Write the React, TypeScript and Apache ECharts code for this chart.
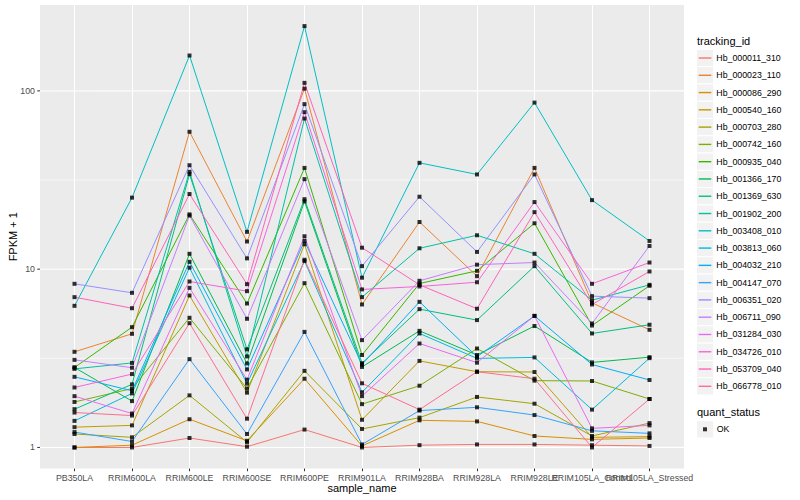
import React, { useEffect, useRef } from "react";
import * as echarts from "echarts";

const categories = [
  "PB350LA", "RRIM600LA", "RRIM600LE", "RRIM600SE", "RRIM600PE", "RRIM901LA",
  "RRIM928BA", "RRIM928LA", "RRIM928LE", "RRIM105LA_Control", "RRIM105LA_Stressed",
];

const trackingIds = [
  "Hb_000011_310", "Hb_000023_110", "Hb_000086_290", "Hb_000540_160", "Hb_000703_280",
  "Hb_000742_160", "Hb_000935_040", "Hb_001366_170", "Hb_001369_630", "Hb_001902_200",
  "Hb_003408_010", "Hb_003813_060", "Hb_004032_210", "Hb_004147_070", "Hb_006351_020",
  "Hb_006711_090", "Hb_031284_030", "Hb_034726_010", "Hb_053709_040", "Hb_066778_010",
];

const palette = [
  "#F8766D", "#EA8331", "#D89000", "#C09B00", "#A3A500", "#7CAE00", "#39B600", "#00BB4E",
  "#00BF7D", "#00C1A3", "#00BFC4", "#00BAE0", "#00B0F6", "#35A2FF", "#9590FF", "#C77CFF",
  "#E76BF3", "#FA62DB", "#FF62BC", "#FF6C91",
];

// FPKM + 1 per sample, in category order
const hb000011_310 = [1.0, 1.0, 1.13, 1.01, 1.26, 1.0, 1.03, 1.04, 1.04, 1.03, 1.02];
const hb000023_110 = [3.44, 4.34, 59, 14.3, 103, 6.34, 18.4, 9.14, 37, 6.48, 4.57];
const hb000086_290 = [1.0, 1.03, 1.44, 1.09, 2.43, 1.02, 1.42, 1.4, 1.16, 1.11, 1.13];
const hb000540_160 = [1.3, 1.33, 7.12, 2.03, 13.8, 1.43, 3.06, 2.66, 2.65, 1.14, 1.15];
const hb000703_280 = [1.19, 1.14, 1.96, 1.07, 2.69, 1.27, 1.47, 1.92, 1.76, 1.16, 1.37];
const hb000742_160 = [1.8, 2.14, 5.34, 2.14, 8.35, 1.75, 2.22, 3.59, 2.37, 2.36, 1.87];
const hb000935_040 = [2.81, 4.73, 20.3, 6.42, 37, 3.3, 8.31, 9.79, 18.1, 4.83, 8.07];
const hb001366_170 = [2.81, 1.82, 12.2, 2.96, 24.0, 2.83, 4.51, 3.3, 4.8, 3.0, 3.21];
const hb001369_630 = [1.64, 2.26, 34.1, 3.55, 24.7, 2.97, 5.97, 5.18, 10.4, 4.36, 4.88];
const hb001902_200 = [2.76, 2.98, 35.2, 3.24, 70, 6.97, 13.1, 15.5, 12.2, 6.7, 8.17];
const hb003408_010 = [6.23, 25.2, 158, 16.2, 231, 8.96, 39.5, 34.0, 86, 24.4, 14.4];
const hb003813_060 = [1.41, 2.01, 10.2, 2.28, 11.1, 2.04, 4.36, 3.16, 3.2, 1.63, 3.17];
const hb004032_210 = [2.49, 2.08, 11.0, 2.74, 14.4, 2.92, 6.56, 3.23, 5.47, 2.92, 2.39];
const hb004147_070 = [1.22, 1.08, 3.13, 1.19, 4.45, 1.04, 1.61, 1.68, 1.52, 1.24, 1.2];
const hb006351_020 = [8.28, 7.37, 38.3, 11.5, 84.3, 10.4, 25.5, 12.5, 34, 7.06, 6.88];
const hb006711_090 = [3.1, 2.8, 20.0, 5.27, 32, 4.0, 8.61, 10.6, 10.9, 4.96, 13.5];
const hb031284_030 = [1.94, 1.55, 7.86, 2.4, 15.3, 1.94, 3.83, 2.99, 5.47, 1.28, 1.33];
const hb034726_010 = [2.17, 2.58, 8.53, 7.53, 76, 7.7, 8.0, 8.45, 23.8, 8.28, 10.9];
const hb053709_040 = [6.97, 6.04, 26.4, 8.24, 111, 13.2, 8.17, 6.0, 20.9, 6.34, 9.71];
const hb066778_010 = [1.57, 1.51, 4.98, 1.45, 11.3, 2.29, 1.63, 2.66, 2.43, 1.0, 1.87];

const seriesValues = [
  hb000011_310, hb000023_110, hb000086_290, hb000540_160, hb000703_280,
  hb000742_160, hb000935_040, hb001366_170, hb001369_630, hb001902_200,
  hb003408_010, hb003813_060, hb004032_210, hb004147_070, hb006351_020,
  hb006711_090, hb031284_030, hb034726_010, hb053709_040, hb066778_010,
];

const quantStatus = ["OK"];
// y breaks (log10 scale)
const yBreaks = [1, 10, 100];
const yBreakLabels = ["1", "10", "100"];
const yMinorBreaks = [Math.sqrt(10), 10 * Math.sqrt(10)];

const FONT = "'Liberation Sans', Arial, Helvetica, sans-serif";

export default function App() {
  const ref = useRef<HTMLDivElement>(null);

  useEffect(() => {
    if (!ref.current) return;
    const chart = echarts.init(ref.current, undefined, { renderer: "svg" });

    const panelLeft = 40;
    const panelTop = 5;
    const panelRight = 684;
    const panelBottom = 468.5;
    const panelW = panelRight - panelLeft;
    const panelH = panelBottom - panelTop;
    const tickLen = 2.75;
    const logLo = -0.118;
    const logHi = 2.482;
    const yMin = Math.pow(10, logLo);
    const yMax = Math.pow(10, logHi);
    const pxOfExp = (e: number) => panelTop + (panelH * (logHi - e)) / (logHi - logLo);
    const breaksTop = pxOfExp(Math.log10(yBreaks[yBreaks.length - 1]));
    const breaksBottom = pxOfExp(Math.log10(yBreaks[0]));
    // discrete x: 0.6 category units of padding on each side
    const unit = panelW / (categories.length - 1 + 1.2);
    const dataLeft = panelLeft + 0.6 * unit;
    const dataW = unit * (categories.length - 1);

    const keyX = 696.4;
    const keySize = 17.28;
    const firstKeyCenter = 58;
    const okCenter = 429.3;

    const lineSeries = trackingIds.map((id, s) => ({
      name: id,
      type: "line",
      xAxisIndex: 1,
      yAxisIndex: 1,
      data: seriesValues[s],
      showSymbol: false,
      symbol: "none",
      lineStyle: { color: palette[s], width: 1 },
      itemStyle: { color: palette[s] },
      silent: true,
      z: 2,
    }));

    const points: (string | number)[][] = [];
    seriesValues.forEach((vals) => vals.forEach((v, i) => points.push([categories[i], v])));

    const labelStyle = { color: "#4D4D4D", fontSize: 8.8, fontFamily: FONT };

    const hiddenValueX = (gridIndex: number) => ({
      gridIndex,
      type: "value",
      min: 0,
      max: 1,
      axisLine: { show: false, onZero: false },
      axisTick: { show: false },
      axisLabel: { show: false },
      splitLine: { show: false },
    });
    const hiddenLogY = (gridIndex: number) => ({
      gridIndex,
      type: "log",
      logBase: 10,
      min: yMin,
      max: yMax,
      axisLine: { show: false, onZero: false },
      axisTick: { show: false },
      axisLabel: { show: false },
      splitLine: { show: false },
    });

    // grid rules / ticks as line series across a whole grid (a hair of slope keeps a non-zero box)
    const ruleLines = (gi: number, values: number[], color: string, width: number) =>
      values.map((v) => ({
        type: "line",
        xAxisIndex: gi,
        yAxisIndex: gi,
        data: [
          [0, v],
          [1, v * 1.001],
        ],
        showSymbol: false,
        symbol: "none",
        lineStyle: { color, width },
        silent: true,
        clip: false,
        z: 1,
      }));

    const option: any = {
      animation: false,
      grid: [
        {
          left: panelLeft,
          top: panelTop,
          width: panelW,
          height: panelH,
          show: true,
          backgroundColor: "#EBEBEB",
          borderWidth: 0,
        },
        { left: dataLeft, top: panelTop, width: dataW, height: panelH, show: false },
        { left: panelLeft, top: breaksTop, width: panelW, height: breaksBottom - breaksTop, show: false },
        { left: panelLeft - tickLen, top: panelTop, width: tickLen, height: panelH, show: false },
      ],
      xAxis: [
        hiddenValueX(0),
        {
          gridIndex: 1,
          type: "category",
          data: categories,
          boundaryGap: false,
          axisLine: { show: false, onZero: false },
          axisTick: { show: true, interval: 0, length: tickLen, lineStyle: { color: "#333333", width: 1 } },
          axisLabel: {
            ...labelStyle,
            interval: 0,
            margin: 5,
            hideOverlap: false,
            showMinLabel: true,
            showMaxLabel: true,
          },
          splitLine: { show: true, interval: 0, lineStyle: { color: "#FFFFFF", width: 1.07 } },
        },
        hiddenValueX(2),
        hiddenValueX(3),
      ],
      yAxis: [
        hiddenLogY(0),
        hiddenLogY(1),
        {
          // labels 1, 10, 100, evenly spaced decades
          gridIndex: 2,
          type: "category",
          data: yBreakLabels,
          boundaryGap: false,
          position: "left",
          axisLine: { show: false, onZero: false },
          axisTick: { show: false },
          axisLabel: { ...labelStyle, interval: 0, margin: 5, showMinLabel: true, showMaxLabel: true },
          splitLine: { show: false },
        },
        hiddenLogY(3),
      ],
      legend: [
        {
          data: trackingIds,
          orient: "vertical",
          left: 698.7,
          top: firstKeyCenter - keySize / 2,
          itemWidth: 12.6,
          itemHeight: 1.4,
          itemGap: 0,
          icon: "rect",
          padding: 0,
          selectedMode: false,
          z: 4,
          textStyle: { fontSize: 8.8, color: "#000000", fontFamily: FONT, lineHeight: keySize },
        },
        {
          data: quantStatus,
          orient: "vertical",
          left: 703,
          top: okCenter - keySize / 2,
          itemWidth: 4,
          itemHeight: 4,
          itemGap: 0,
          icon: "rect",
          padding: 0,
          selectedMode: false,
          z: 4,
          textStyle: {
            fontSize: 8.8,
            color: "#000000",
            fontFamily: FONT,
            lineHeight: keySize,
            padding: [0, 0, 0, 4.7],
          },
        },
      ],
      series: [
        ...ruleLines(0, yMinorBreaks, "#FFFFFF", 0.6),
        ...ruleLines(0, yBreaks, "#FFFFFF", 1.1),
        ...ruleLines(3, yBreaks, "#333333", 1),
        ...lineSeries,
        {
          name: "OK",
          type: "scatter",
          xAxisIndex: 1,
          yAxisIndex: 1,
          data: points,
          symbol: "rect",
          symbolSize: 4,
          itemStyle: { color: "#000000" },
          silent: true,
          z: 3,
        },
      ],
    };

    chart.setOption(option);

    const keyRects = trackingIds.map((_, i) => ({
      type: "rect",
      z: 0,
      shape: { x: keyX, y: firstKeyCenter - keySize / 2 + keySize * i, width: keySize, height: keySize },
      style: { fill: "#F2F2F2", stroke: "#FFFFFF", lineWidth: 1 },
    }));

    chart.setOption({
      graphic: [
        ...keyRects,
        {
          type: "rect",
          z: 0,
          shape: { x: keyX, y: okCenter - keySize / 2, width: keySize, height: keySize },
          style: { fill: "#F2F2F2", stroke: "#FFFFFF", lineWidth: 1 },
        },
        {
          type: "text",
          x: 697,
          y: 41,
          style: { text: "tracking_id", fontSize: 11, fontFamily: FONT, fill: "#000000", align: "left", verticalAlign: "middle" },
        },
        {
          type: "text",
          x: 697,
          y: 412,
          style: { text: "quant_status", fontSize: 11, fontFamily: FONT, fill: "#000000", align: "left", verticalAlign: "middle" },
        },
        {
          type: "text",
          x: panelLeft + panelW / 2,
          y: 487.5,
          style: { text: "sample_name", fontSize: 11, fontFamily: FONT, fill: "#000000", align: "center", verticalAlign: "middle" },
        },
        {
          type: "text",
          x: 12.5,
          y: panelTop + panelH / 2,
          rotation: Math.PI / 2,
          style: { text: "FPKM + 1", fontSize: 11, fontFamily: FONT, fill: "#000000", align: "center", verticalAlign: "middle" },
        },
      ],
    });

    return () => chart.dispose();
  }, []);

  return (
    <div
      ref={ref}
      style={{ position: "fixed", left: 0, top: 0, width: 800, height: 500, background: "#FFFFFF" }}
    />
  );
}
